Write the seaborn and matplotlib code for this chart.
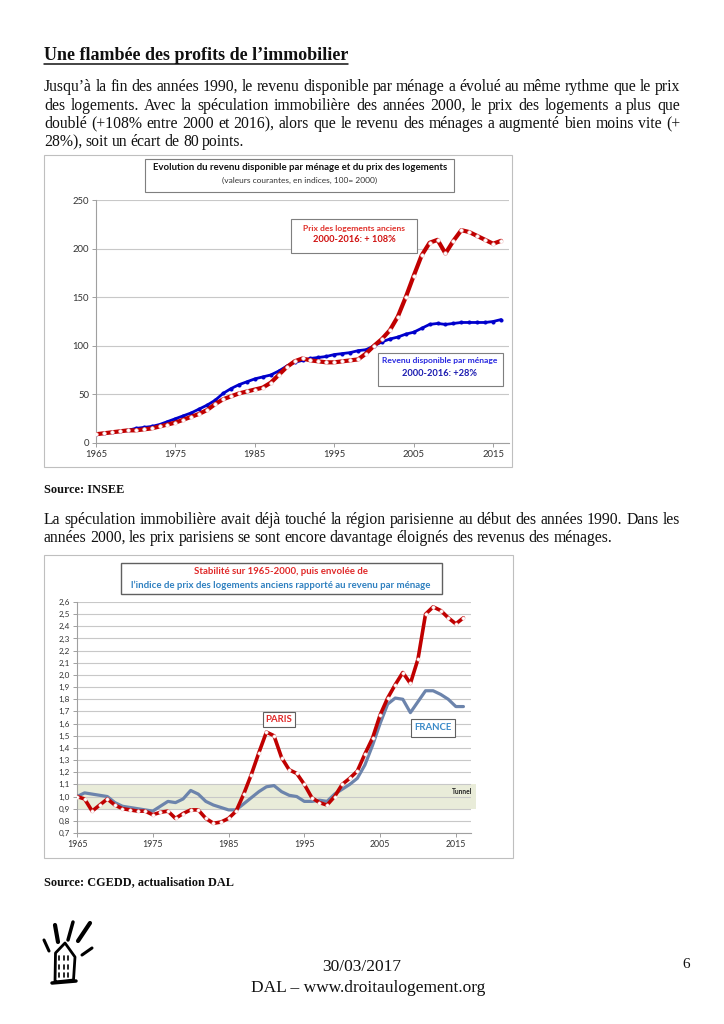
"""
Page 6 du dossier DAL : prix des logements vs revenu des ménages
Deux graphiques (INSEE / CGEDD) dans une mise en page de document.
"""

import matplotlib
matplotlib.use("Agg")
import numpy as np
import matplotlib.pyplot as plt
from matplotlib.patches import Rectangle
from matplotlib.ticker import FuncFormatter
import seaborn as sns

sns.set_style("white")
plt.rcParams["font.family"] = ["Lato", "DejaVu Sans"]

W, H = 724, 1024

# --- Data ---
years = list(range(1965, 2017))

# Graph 1: indices, 100 = 2000
prix_logements = [
    9, 10, 11, 12, 13, 13, 14, 15, 17, 19,
    21, 24, 27, 30, 34, 40, 45, 48, 51, 53,
    55, 57, 62, 70, 78, 84, 87, 85, 84, 83,
    83, 84, 85, 86, 92, 100, 107, 116, 130, 150,
    172, 193, 206, 209, 195, 208, 219, 217, 213, 209,
    205, 208,
]
revenu_menage = [
    9, 10, 11, 12, 13, 15, 16, 17, 19, 22,
    25, 28, 31, 35, 39, 44, 51, 56, 60, 63,
    66, 68, 70, 74, 79, 83, 85, 87, 88, 89,
    91, 92, 93, 95, 96, 100, 104, 107, 109, 112,
    114, 118, 122, 123, 122, 123, 124, 124, 124, 124,
    125, 127,
]

# Graph 2: prix des logements anciens / revenu par ménage
paris_ratio = [
    1.00, 0.98, 0.88, 0.93, 0.98, 0.93, 0.90, 0.89, 0.88, 0.88,
    0.85, 0.87, 0.88, 0.82, 0.86, 0.89, 0.89, 0.82, 0.78, 0.79,
    0.82, 0.88, 1.02, 1.18, 1.36, 1.53, 1.50, 1.32, 1.22, 1.19,
    1.10, 0.99, 0.95, 0.93, 1.00, 1.10, 1.15, 1.21, 1.35, 1.48,
    1.67, 1.81, 1.92, 2.02, 1.93, 2.13, 2.50, 2.56, 2.53, 2.47,
    2.42, 2.47,
]
france_ratio = [
    1.00, 1.03, 1.02, 1.01, 1.00, 0.95, 0.92, 0.91, 0.90, 0.89,
    0.88, 0.92, 0.96, 0.95, 0.98, 1.05, 1.02, 0.96, 0.93, 0.91,
    0.89, 0.89, 0.94, 0.99, 1.04, 1.08, 1.09, 1.04, 1.01, 1.00,
    0.96, 0.96, 0.97, 0.96, 1.02, 1.06, 1.10, 1.15, 1.26, 1.42,
    1.60, 1.76, 1.81, 1.80, 1.69, 1.78, 1.87, 1.87, 1.84, 1.80,
    1.74, 1.74,
]
tunnel = (0.9, 1.1)

x_ticks = [1965, 1975, 1985, 1995, 2005, 2015]
y_ticks_1 = [0, 50, 100, 150, 200, 250]
y_ticks_2 = np.round(np.arange(0.7, 2.61, 0.1), 1)

SERIF = ["Liberation Serif", "DejaVu Serif"]
GRID = "#c8c8c8"
AXIS = "#a0a0a0"
RED = "#c00000"


def style_chart(ax, labelsize):
    ax.set_axisbelow(True)
    ax.yaxis.grid(True, color=GRID, lw=0.8)
    ax.xaxis.grid(False)
    for side in ("top", "right"):
        ax.spines[side].set_visible(False)
    for side in ("left", "bottom"):
        ax.spines[side].set_color(AXIS)
        ax.spines[side].set_linewidth(0.8)
    ax.tick_params(axis="both", bottom=True, left=True, length=3, width=0.7,
                   color=AXIS, labelsize=labelsize, pad=2, labelcolor="#333333")
    ax.set_xlabel("")
    ax.set_ylabel("")


fig = plt.figure(figsize=(W / 100, H / 100), dpi=100)
fig.patch.set_facecolor("white")

# --- Graph 1 ---
ax1 = fig.add_axes([96 / W, 1 - 443 / H, 413 / W, 243 / H])
sns.lineplot(x=years, y=revenu_menage, ax=ax1, color="#0000cc", lw=2,
             marker="o", ms=2.2, mec="#0000cc", zorder=3)
sns.lineplot(x=years, y=prix_logements, ax=ax1, color=RED, lw=3,
             marker="o", ms=2.6, mfc="white", mec="#f2d0d0", mew=0.4, zorder=4)
ax1.set_xlim(1965, 2017)
ax1.set_ylim(0, 250)
ax1.set_xticks(x_ticks)
ax1.set_yticks(y_ticks_1)
style_chart(ax1, 6.8)

# --- Graph 2 ---
ax2 = fig.add_axes([77 / W, 1 - 833 / H, 394 / W, 231 / H])
ax2.fill_between([1965, 2017.6], tunnel[0], tunnel[1], color="#e9ecd9",
                 lw=0, zorder=0.2, clip_on=False)
sns.lineplot(x=years, y=france_ratio, ax=ax2, color="#6c84ac", lw=2.3, zorder=3)
sns.lineplot(x=years, y=paris_ratio, ax=ax2, color=RED, lw=2.6,
             marker="o", ms=2.4, mfc="white", mec="#f2d0d0", mew=0.4, zorder=4)
ax2.set_xlim(1965, 2017)
ax2.set_ylim(0.7, 2.6)
ax2.set_xticks(x_ticks)
ax2.set_yticks(y_ticks_2)
ax2.yaxis.set_major_formatter(FuncFormatter(lambda v, p: f"{v:.1f}".replace(".", ",")))
style_chart(ax2, 6.3)
ax2.tick_params(axis="y", labelsize=5.9)

# --- Page layer (pixel coordinates, origin top-left) ---
page = fig.add_axes([0, 0, 1, 1], zorder=5)
page.set_xlim(0, W)
page.set_ylim(H, 0)
page.axis("off")
renderer = fig.canvas.get_renderer()


def box(x, y, w, h, ec="#7f7f7f", lw=0.8, fc="white"):
    page.add_patch(Rectangle((x, y), w, h, fc=fc, ec=ec, lw=lw))


def body_line(text, y, justify=True, x0=44, x1=680, size=11.3):
    """Place one line of body text word by word, justified between x0 and x1."""
    words = text.split()
    items = [page.text(x0, y, w, fontsize=size, family=SERIF, va="center",
                       ha="left", color="#111111") for w in words]
    widths = [t.get_window_extent(renderer=renderer).width for t in items]
    space = size * 0.3
    if justify and len(items) > 1:
        space = (x1 - x0 - sum(widths)) / (len(items) - 1)
    x = x0
    for t, w in zip(items, widths):
        t.set_x(x)
        x += w + space


# title
title = page.text(44, 55, "Une flambée des profits de l’immobilier", fontsize=13,
                  family=SERIF, weight="bold", va="center", color="#111111")
tw = title.get_window_extent(renderer=renderer).width
page.plot([44, 44 + tw], [64, 64], color="#111111", lw=1.1)

body_line("Jusqu’à la fin des années 1990, le revenu disponible par ménage a évolué "
          "au même rythme que le prix", 87)
body_line("des logements. Avec la spéculation immobilière des années 2000, le prix des "
          "logements a plus que", 105.5)
body_line("doublé (+108% entre 2000 et 2016), alors que le revenu des ménages a augmenté "
          "bien moins vite (+", 124)
body_line("28%), soit un écart de 80 points.", 142, justify=False)

# chart 1 frames and labels
box(44, 155, 468, 312, ec="#bfbfbf", fc="none")
box(145, 159, 309, 33)
page.text(300, 168, "Evolution du revenu disponible par ménage et du prix des logements",
          fontsize=6.9, weight="bold", ha="center", va="center", color="#111111")
page.text(300, 180, "(valeurs courantes, en indices, 100= 2000)",
          fontsize=6.0, ha="center", va="center", color="#333333")
box(291, 219, 126, 34)
page.text(354, 228, "Prix des logements anciens", fontsize=6.1, weight="bold",
          ha="center", va="center", color="#e0302a")
page.text(354, 240, "2000-2016: + 108%", fontsize=6.7, weight="bold",
          ha="center", va="center", color="#d01010")
box(378, 353, 125, 33)
page.text(440, 361, "Revenu disponible par ménage", fontsize=6.1, weight="bold",
          ha="center", va="center", color="#2828e0")
page.text(440, 373, "2000-2016: +28%", fontsize=6.7, weight="bold",
          ha="center", va="center", color="#1a1ab0")

page.text(44, 490, "Source: INSEE", fontsize=8.8, family=SERIF, weight="bold",
          va="center", color="#111111")

body_line("La spéculation immobilière avait déjà touché la région parisienne au début "
          "des années 1990.  Dans les", 520)
body_line("années 2000, les prix parisiens se sont encore davantage éloignés des "
          "revenus des ménages.", 538, justify=False)

# chart 2 frames and labels
box(44, 555, 469, 303, ec="#bfbfbf", fc="none")
box(121, 563, 321, 31, ec="#606060", lw=1)
page.text(281, 572, "Stabilité sur 1965-2000, puis envolée de", fontsize=6.9,
          weight="bold", ha="center", va="center", color="#e02828")
page.text(281, 585, "l’indice de prix des logements anciens rapporté au revenu par ménage",
          fontsize=6.9, weight="bold", ha="center", va="center", color="#2f80c0")
box(263, 712, 32, 15, ec="#606060")
page.text(279, 720, "PARIS", fontsize=6.9, weight="bold", ha="center", va="center",
          color="#e02828")
box(411, 719, 44, 18, ec="#606060")
page.text(433, 728, "FRANCE", fontsize=6.9, weight="bold", ha="center", va="center",
          color="#3a8ac8")
page.text(472, 792, "Tunnel", fontsize=4.8, weight="bold", ha="right", va="center",
          color="#222222")

page.text(44, 882, "Source: CGEDD, actualisation DAL", fontsize=8.8, family=SERIF,
          weight="bold", va="center", color="#111111")

# footer logo (rough house sketch)
house_x = [55, 55.5, 65, 75, 73.5, 55]
house_y = [982, 953, 943, 957, 980, 982]
page.plot(house_x, house_y, color="black", lw=2, solid_joinstyle="round")
page.plot([52, 76], [983, 981], color="black", lw=2.5)
for wx in (59, 63.5, 68):
    for wy in (956, 965, 973):
        page.plot([wx, wx], [wy, wy + 4], color="black", lw=1.2)
for (xa, ya, xb, yb, lw) in [(44, 940, 49, 951, 2.2), (55, 925, 58, 942, 3),
                             (73, 922, 68, 940, 2.5), (90, 923, 78, 941, 3),
                             (92, 948, 82, 955, 2.2)]:
    page.plot([xa, xb], [ya, yb], color="black", lw=lw, solid_capstyle="round")

page.text(362, 967, "30/03/2017", fontsize=12.5, family=SERIF, ha="center",
          va="center", color="#111111")
page.text(368, 988, "DAL – www.droitaulogement.org", fontsize=12.5, family=SERIF,
          ha="center", va="center", color="#111111")
page.text(686, 965, "6", fontsize=11, family=SERIF, ha="center", va="center",
          color="#111111")

fig.savefig("out.png", dpi=100, facecolor="white")
